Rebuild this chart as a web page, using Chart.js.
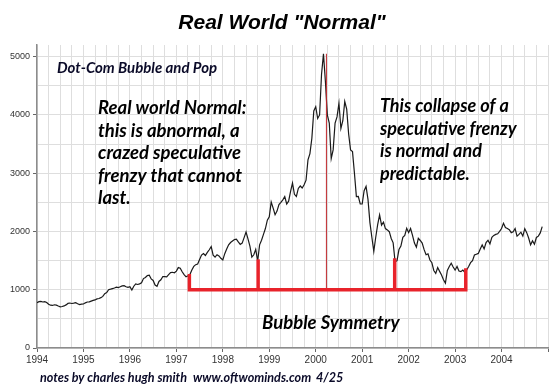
<!DOCTYPE html>
<html lang="en">
<head>
    <meta charset="UTF-8">
    <title>Real World "Normal"</title>
    <script src="https://cdnjs.cloudflare.com/ajax/libs/Chart.js/4.4.1/chart.umd.min.js"></script>
    <style>
        html, body { margin: 0; padding: 0; background: #fff; }
        #wrap { width: 550px; height: 391px; }
    </style>
</head>
<body>
<div id="wrap"><canvas id="chart" width="550" height="391"></canvas></div>
<script type="text/javascript">
    // NASDAQ composite, two readings a month, Jan 1994 .. Nov 2004
    const startYear = 1994;
    const perYear = 24;
    const nasdaq = [
        // 1994
        777, 795, 800, 790, 796, 780, 750, 735, 730, 742, 735, 720, 706, 712, 722, 740, 765, 772, 764, 770, 777, 760, 745, 752,
        // 1995
        755, 775, 790, 793, 805, 817, 825, 843, 850, 864, 885, 933, 950, 1001, 1010, 1020, 1030, 1044, 1036, 1050, 1065, 1070, 1052, 1040,
        // 1996
        1052, 995, 1060, 1100, 1090, 1101, 1120, 1191, 1210, 1243, 1250, 1185, 1160, 1081, 1060, 1142, 1170, 1227, 1225, 1222, 1260, 1293, 1300, 1291,
        // 1997
        1320, 1380, 1370, 1309, 1260, 1222, 1240, 1261, 1340, 1400, 1430, 1442, 1520, 1594, 1620, 1587, 1640, 1686, 1740, 1594, 1560, 1601, 1580, 1540,
        // 1998
        1510, 1619, 1700, 1771, 1810, 1835, 1860, 1868, 1820, 1779, 1800, 1895, 1990, 1873, 1750, 1560, 1600, 1694, 1490, 1771, 1850, 1950, 2050, 2193,
        // 1999
        2250, 2505, 2400, 2288, 2350, 2461, 2500, 2543, 2600, 2471, 2520, 2686, 2830, 2638, 2600, 2739, 2780, 2746, 2800, 2880, 3230, 3336, 3600, 4069,
        // 2000
        4140, 3940, 4000, 4697, 5048, 4573, 4000, 3861, 3250, 3400, 3860, 3966, 4200, 3767, 3900, 4230, 4100, 3673, 3400, 3370, 3000, 2598, 2600, 2471,
        // 2001
        2471, 2700, 2773, 2550, 2152, 1900, 1660, 1900, 2116, 2283, 2110, 2161, 2050, 2027, 1996, 1880, 1805, 1480, 1499, 1690, 1750, 1900, 1931, 2054,
        // 2002
        1980, 2050, 1934, 1800, 1731, 1883, 1845, 1800, 1688, 1600, 1616, 1510, 1463, 1330, 1280, 1380, 1315, 1253, 1172, 1114, 1330, 1400, 1454, 1390,
        // 2003
        1336, 1400, 1321, 1310, 1337, 1300, 1341, 1400, 1464, 1500, 1596, 1610, 1623, 1700, 1768, 1700, 1810, 1850, 1787, 1900, 1932, 1950, 1960, 2003,
        // 2004
        2050, 2140, 2066, 2050, 2030, 1980, 1996, 2050, 1920, 1950, 1987, 1920, 2048, 1980, 1887, 1770, 1838, 1780, 1897, 1920, 1975, 2082
    ];

    // "Bubble Symmetry" bracket
    const symX = [1997.28, 1998.76, 2001.70, 2003.23];
    const symTop = [1270, 1522, 1540, 1368];
    const symBase = 1000;
    const peakX = 2000.23;
    const peakTop = 5050;

    const yearTicks = [1994, 1995, 1996, 1997, 1998, 1999, 2000, 2001, 2002, 2003, 2004];
    const valueTicks = [0, 1000, 2000, 3000, 4000, 5000];

    const series = nasdaq.map((v, i) => ({x: startYear + i / perYear, y: v}));
    const red = '#e8232b';

    const notes = {
        id: 'notes',
        afterDraw: (chart) => {
            const {ctx} = chart;
            ctx.save();
            ctx.textBaseline = 'alphabetic';
            ctx.textAlign = 'center';
            ctx.fillStyle = '#000';
            ctx.font = 'italic bold 21px "Liberation Sans", Arial, sans-serif';
            ctx.fillText('Real World "Normal"', 282, 29);

            ctx.textAlign = 'left';
            ctx.fillStyle = '#0a0a28';
            ctx.font = 'italic bold 15px Lato, sans-serif';
            ctx.fillText('Dot-Com Bubble and Pop', 57, 73);

            ctx.fillStyle = '#000';
            ctx.font = 'italic bold 18.5px Lato, sans-serif';
            const left = ['Real world Normal:', 'this is abnormal, a', 'crazed speculative', 'frenzy that cannot', 'last.'];
            left.forEach((t, i) => ctx.fillText(t, 98, 114 + i * 22.6));
            ctx.font = 'italic bold 18px Lato, sans-serif';
            const right = ['This collapse of a', 'speculative frenzy', 'is normal and', 'predictable.'];
            right.forEach((t, i) => ctx.fillText(t, 380, 112 + i * 22.6));

            ctx.font = 'italic bold 18.5px Lato, sans-serif';
            ctx.fillText('Bubble Symmetry', 262, 329);

            ctx.fillStyle = '#0a0a28';
            ctx.font = 'italic bold 12.6px Lato, sans-serif';
            ctx.fillText('notes by charles hugh smith', 40, 382);
            ctx.fillText('www.oftwominds.com', 193, 382);
            ctx.fillText('4/25', 316, 382);
            ctx.restore();
        }
    };

    const whiteBg = {
        id: 'whiteBg',
        beforeDraw: (chart) => {
            const {ctx} = chart;
            ctx.save();
            ctx.fillStyle = '#fff';
            ctx.fillRect(0, 0, chart.width, chart.height);
            ctx.restore();
        }
    };

    const config = {
        type: 'line',
        data: {
            datasets: [
                {
                    data: [{x: symX[0], y: symTop[0]}, {x: symX[0], y: symBase}, {x: symX[3], y: symBase}, {x: symX[3], y: symTop[3]}],
                    borderColor: red, borderWidth: 3.5, pointRadius: 0, order: 0, borderJoinStyle: 'miter'
                },
                {
                    data: [{x: symX[1], y: symBase}, {x: symX[1], y: symTop[1]}],
                    borderColor: red, borderWidth: 3.5, pointRadius: 0, order: 0
                },
                {
                    data: [{x: symX[2], y: symBase}, {x: symX[2], y: symTop[2]}],
                    borderColor: red, borderWidth: 3.5, pointRadius: 0, order: 0
                },
                {
                    data: [{x: peakX, y: symBase}, {x: peakX, y: peakTop}],
                    borderColor: '#c0282c', borderWidth: 1, pointRadius: 0, order: 0
                },
                {
                    data: series,
                    borderColor: '#1a1a1a', borderWidth: 1.2, pointRadius: 0, tension: 0, order: 1
                }
            ]
        },
        options: {
            responsive: false,
            animation: false,
            layout: {padding: {top: 45, right: 1, left: 0, bottom: 0}},
            plugins: {
                legend: {display: false},
                tooltip: {enabled: false},
                title: {display: false}
            },
            scales: {
                x: {
                    type: 'linear',
                    min: 1994,
                    max: 2005,
                    afterFit: (s) => { s.height = 43; },
                    border: {color: '#8c8c8c', width: 1.5},
                    grid: {
                        color: '#dedede',
                        tickLength: 4,
                        tickColor: (c) => yearTicks.includes(c.tick.value) || c.tick.value === 2005 ? '#666' : 'rgba(0,0,0,0)'
                    },
                    ticks: {
                        stepSize: 0.25,
                        autoSkip: false,
                        maxRotation: 0,
                        padding: 2,
                        color: '#333',
                        font: {family: 'Arial, "Liberation Sans", sans-serif', size: 10},
                        callback: (v) => yearTicks.includes(v) ? String(v) : ''
                    }
                },
                y: {
                    min: 0,
                    max: 5200,
                    afterFit: (s) => { s.width = 37; },
                    border: {color: '#8c8c8c', width: 1.5},
                    grid: {
                        color: (c) => c.tick.value % 500 === 0 && c.tick.value < 5200 ? '#dedede' : 'rgba(0,0,0,0)',
                        tickLength: 4,
                        tickColor: (c) => valueTicks.includes(c.tick.value) ? '#666' : 'rgba(0,0,0,0)'
                    },
                    ticks: {
                        stepSize: 100,
                        autoSkip: false,
                        padding: 3,
                        color: '#333',
                        font: {family: 'Arial, "Liberation Sans", sans-serif', size: 9},
                        callback: (v) => valueTicks.includes(v) ? String(v) : ''
                    }
                }
            }
        },
        plugins: [whiteBg, notes]
    };

    const chart = new Chart(document.getElementById('chart'), config);
</script>
</body>
</html>
